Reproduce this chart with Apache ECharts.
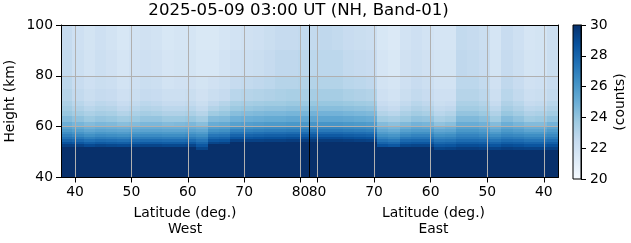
<!DOCTYPE html>
<html><head><meta charset="utf-8">
<script src="https://cdn.jsdelivr.net/npm/echarts@6/dist/echarts.min.js"></script>
<style>html,body{margin:0;padding:0;background:#fff}#c{width:631px;height:243px}</style>
</head><body><div id="c"></div>
<script>
const titleText = '2025-05-09 03:00 UT (NH, Band-01)';
const yAxisTitle = 'Height (km)';
const xAxisTitleWest = 'Latitude (deg.)\nWest';
const xAxisTitleEast = 'Latitude (deg.)\nEast';
const colorbarTitle = '(counts)';
const xTickValues = [40, 50, 60, 70, 80];
const colorbarRange = [20, 30];
// latitude bin edges (deg), ascending
const latEdges = [37.5,39.5,41.5,43.5,45.5,47.5,49.5,51.5,53.5,55.5,57.5,59.5,61.5,63.5,65.5,67.5,69.5,71.5,73.5,75.5,77.5,79.5,81.5];
// height bin edges (km)
const heightEdges = [40,50,51,52,53,54,55,56,57,58,59,60,62,64,66,68,70,75,80,90,100];
// counts per latitude bin (ascending latitude), each from bottom height bin to top
const westCounts = [
  [31,31,31,29.4,28.7,28.0,27.4,26.9,26.4,25.9,25.5,25.0,24.4,23.9,23.6,23.3,23.0,22.8,22.6,22.5],
  [31,31,31,29.3,28.5,27.8,27.2,26.6,26.1,25.6,25.2,24.7,24.1,23.6,23.2,22.9,22.6,22.4,22.2,22.1],
  [31,31,31,29.0,28.2,27.5,26.9,26.3,25.8,25.3,24.9,24.4,23.8,23.3,22.9,22.6,22.3,22.1,21.9,21.8],
  [31,31,31,29.2,28.4,27.7,27.1,26.5,26.0,25.5,25.1,24.6,24.0,23.5,23.1,22.8,22.5,22.3,22.2,22.1],
  [31,31,31,29.1,28.3,27.6,27.0,26.4,25.9,25.4,25.0,24.5,23.9,23.4,23.0,22.7,22.4,22.2,22.0,21.9],
  [31,31,31,29.0,28.2,27.5,26.9,26.3,25.8,25.3,24.9,24.3,23.7,23.1,22.7,22.4,22.1,21.9,21.7,21.6],
  [31,31,31,29.1,28.3,27.6,27.0,26.4,25.9,25.4,25.0,24.4,23.8,23.3,22.9,22.6,22.3,22.1,22.0,21.9],
  [31,31,31,29.2,28.4,27.7,27.1,26.5,26.0,25.5,25.1,24.6,24.0,23.5,23.1,22.8,22.5,22.3,22.1,22.0],
  [31,31,31,29.2,28.4,27.7,27.1,26.5,26.0,25.5,25.1,24.6,24.0,23.4,23.0,22.7,22.4,22.2,22.0,21.9],
  [31,31,31,29.1,28.3,27.6,27.0,26.4,25.9,25.4,25.0,24.4,23.8,23.2,22.8,22.5,22.2,21.9,21.7,21.6],
  [31,31,31,29.1,28.3,27.6,27.0,26.4,25.9,25.4,25.0,24.5,23.8,23.2,22.8,22.5,22.2,22.0,21.8,21.7],
  [31,31,31,29.2,28.4,27.7,27.1,26.5,26.0,25.5,25.1,24.6,23.9,23.3,22.9,22.6,22.3,22.0,21.8,21.7],
  [31,31,29.2,28.5,27.9,27.3,26.8,26.3,25.8,25.3,24.9,24.3,23.6,23.0,22.6,22.3,22.0,21.8,21.6,21.5],
  [31,31,31,31,29.2,28.5,27.9,27.3,26.7,26.2,25.7,25.1,24.4,23.7,23.1,22.7,22.3,22.0,21.6,21.5],
  [31,31,31,31,29.3,28.6,28.0,27.4,26.8,26.3,25.8,25.2,24.5,23.9,23.4,23.0,22.5,22.2,21.9,21.7],
  [31,31,31,31,31,29.3,28.6,28.0,27.4,26.8,26.2,25.6,24.9,24.3,23.8,23.4,22.9,22.5,22.1,21.9],
  [31,31,31,31,31,29.3,28.6,28.0,27.4,26.8,26.3,25.7,25.0,24.4,23.9,23.5,23.0,22.6,22.2,22.0],
  [31,31,31,31,31,29.3,28.7,28.1,27.5,26.9,26.4,25.8,25.1,24.5,24.0,23.6,23.1,22.7,22.3,22.1],
  [31,31,31,31,31,29.4,28.8,28.2,27.6,27.0,26.5,25.9,25.2,24.6,24.1,23.7,23.2,22.8,22.5,22.3],
  [31,31,31,31,31,29.4,28.8,28.2,27.6,27.0,26.5,25.9,25.2,24.6,24.1,23.7,23.3,23.0,22.7,22.5],
  [31,31,31,31,31,29.5,28.9,28.3,27.7,27.1,26.6,26.0,25.3,24.7,24.2,23.8,23.4,23.0,22.7,22.5],
  [31,31,31,31,31,29.5,28.9,28.3,27.7,27.1,26.6,26.0,25.3,24.7,24.2,23.8,23.4,23.1,22.8,22.6]
];
const eastCounts = [
  [31,31,29.4,28.8,28.2,27.6,27.1,26.6,26.2,25.8,25.4,24.8,24.1,23.6,23.2,22.9,22.6,22.4,22.3,22.2],
  [31,31,29.3,28.6,28.0,27.4,26.9,26.4,25.9,25.4,25.0,24.4,23.8,23.3,22.9,22.6,22.3,22.1,21.9,21.8],
  [31,31,29.3,28.6,28.0,27.4,26.9,26.4,25.9,25.4,25.0,24.4,23.7,23.2,22.8,22.5,22.2,22.0,21.8,21.7],
  [31,31,29.4,28.8,28.2,27.6,27.1,26.6,26.1,25.7,25.3,24.7,24.1,23.6,23.2,22.9,22.6,22.4,22.2,22.1],
  [31,31,29.5,28.9,28.3,27.7,27.2,26.7,26.3,25.9,25.5,25.0,24.4,23.9,23.5,23.2,22.9,22.7,22.5,22.4],
  [31,31,29.3,28.6,28.0,27.4,26.9,26.4,25.9,25.4,25.0,24.4,23.7,23.2,22.8,22.5,22.2,22.0,21.8,21.7],
  [31,31,29.4,28.8,28.2,27.6,27.1,26.6,26.2,25.8,25.4,24.9,24.3,23.8,23.4,23.1,22.8,22.6,22.4,22.3],
  [31,31,29.5,28.9,28.3,27.7,27.2,26.8,26.4,26.0,25.6,25.1,24.5,24.0,23.6,23.3,23.0,22.8,22.6,22.5],
  [31,31,29.5,28.9,28.3,27.7,27.2,26.8,26.4,26.0,25.6,25.1,24.5,24.0,23.6,23.3,23.0,22.8,22.7,22.6],
  [31,31,29.3,28.6,28.0,27.4,26.9,26.4,25.9,25.4,25.0,24.3,23.6,23.1,22.7,22.4,22.1,21.9,21.8,21.7],
  [31,31,29.2,28.5,27.9,27.3,26.8,26.3,25.8,25.3,24.8,24.1,23.4,22.9,22.6,22.3,22.1,21.9,21.8,21.7],
  [31,31,31,29.2,28.5,27.9,27.3,26.8,26.3,25.8,25.3,24.7,24.0,23.4,23.0,22.7,22.4,22.2,22.0,21.9],
  [31,31,31,29.2,28.5,27.9,27.3,26.8,26.3,25.8,25.4,24.8,24.1,23.6,23.2,22.9,22.6,22.4,22.2,22.1],
  [31,31,31,29.1,28.4,27.8,27.2,26.6,26.1,25.6,25.1,24.5,23.8,23.3,22.9,22.6,22.3,22.1,22.0,21.9],
  [31,31,31,28.5,27.8,27.2,26.6,26.1,25.6,25.1,24.7,24.2,23.5,22.9,22.5,22.2,21.9,21.7,21.5,21.4],
  [31,31,31,28.7,28.0,27.4,26.8,26.3,25.8,25.3,24.9,24.4,23.7,23.1,22.7,22.4,22.1,21.9,21.7,21.6],
  [31,31,31,31,31,29.3,28.7,28.1,27.5,26.9,26.4,25.8,25.1,24.5,24.0,23.6,23.1,22.7,22.4,22.2],
  [31,31,31,31,31,29.4,28.8,28.2,27.6,27.0,26.5,25.9,25.2,24.6,24.1,23.7,23.2,22.8,22.5,22.3],
  [31,31,31,31,31,29.5,28.9,28.3,27.7,27.1,26.6,26.0,25.3,24.7,24.2,23.8,23.3,22.9,22.6,22.4],
  [31,31,31,31,31,29.6,29.0,28.4,27.8,27.2,26.7,26.1,25.4,24.8,24.3,23.9,23.5,23.1,22.8,22.6],
  [31,31,31,31,31,29.6,29.0,28.4,27.8,27.2,26.7,26.1,25.4,24.8,24.3,23.9,23.5,23.1,22.8,22.7],
  [31,31,31,31,31,29.6,29.0,28.4,27.8,27.2,26.7,26.1,25.4,24.8,24.3,23.9,23.5,23.1,22.8,22.6]
];

// matplotlib "Blues" colormap stops
const bluesStops = [[247,251,255],[222,235,247],[198,219,239],[158,202,225],[107,174,214],[66,146,198],[33,113,181],[8,81,156],[8,48,107]];
function blues(v) {
  let t = (v - colorbarRange[0]) / (colorbarRange[1] - colorbarRange[0]);
  t = Math.max(0, Math.min(1, t));
  const n = bluesStops.length - 1;
  const i = Math.min(n - 1, Math.floor(t * n));
  const f = t * n - i;
  const a = bluesStops[i], b = bluesStops[i + 1];
  const c = a.map((x, k) => Math.round(x + (b[k] - x) * f));
  return 'rgb(' + c.join(',') + ')';
}

function cells(counts) {
  const out = [];
  for (let i = 0; i < latEdges.length - 1; i++) {
    for (let j = 0; j < heightEdges.length - 1; j++) {
      if (counts[i] && counts[i][j] != null)
        out.push([latEdges[i], latEdges[i + 1], heightEdges[j], heightEdges[j + 1], counts[i][j]]);
    }
  }
  return out;
}

function renderCell(params, api) {
  const p0 = api.coord([api.value(0), api.value(3)]);
  const p1 = api.coord([api.value(1), api.value(2)]);
  const x0 = Math.round(Math.min(p0[0], p1[0])), x1 = Math.round(Math.max(p0[0], p1[0]));
  const y0 = Math.round(Math.min(p0[1], p1[1])), y1 = Math.round(Math.max(p0[1], p1[1]));
  return { type: 'rect', shape: { x: x0, y: y0, width: x1 - x0, height: y1 - y0 },
           style: { fill: blues(api.value(4)) } };
}

function renderColorbar(params, api) {
  const p0 = api.coord([api.value(0), api.value(3)]);
  const p1 = api.coord([api.value(1), api.value(2)]);
  const stops = bluesStops.map((c, k) => ({ offset: k / (bluesStops.length - 1), color: 'rgb(' + c.join(',') + ')' }));
  return { type: 'rect', shape: { x: p0[0], y: p0[1], width: p1[0] - p0[0], height: p1[1] - p0[1] },
           style: { fill: new echarts.graphic.LinearGradient(0, 1, 0, 0, stops), stroke: '#000', lineWidth: 1 } };
}

const FONT = 'DejaVu Sans';
const txt = { fontFamily: FONT, fontSize: 13.9, color: '#000' };
const xGridLine = { show: true, lineStyle: { color: '#b0b0b0', width: 1 } };
const yGridLine = { show: true, showMinLine: false, showMaxLine: false, lineStyle: { color: '#b0b0b0', width: 1 } };
const blackLine = { show: true, onZero: false, lineStyle: { color: '#000', width: 1 } };

function latAxis(grid, inverse, name) {
  return {
    gridIndex: grid, type: 'value', min: 37.5, max: 81.5, inverse: inverse, position: 'bottom', z: 5,
    axisLine: blackLine,
    axisTick: { show: true, customValues: xTickValues, length: 5, lineStyle: { color: '#000' } },
    axisLabel: Object.assign({ customValues: xTickValues, margin: 8 }, txt),
    splitLine: xGridLine,
    name: name, nameLocation: 'middle', nameGap: 27.5,
    nameTextStyle: Object.assign({ lineHeight: 16.5 }, txt)
  };
}
function frameX(grid, inverse) {
  return { gridIndex: grid, type: 'value', min: 37.5, max: 81.5, inverse: inverse, position: 'top', z: 6,
           axisLine: blackLine, axisTick: { show: false }, axisLabel: { show: false }, splitLine: { show: false } };
}

const option = {
  animation: false,
  backgroundColor: '#fff',
  graphic: [{ type: 'text', x: 298.6, y: 11, z: 10,
              style: { text: titleText, font: '16.6px "DejaVu Sans"', fill: '#000', align: 'center', verticalAlign: 'middle' } }],
  grid: [
    { left: 61, top: 25, width: 248, height: 154 },
    { left: 309, top: 25, width: 249, height: 154 },
    { left: 573, top: 25, width: 8, height: 154 }
  ],
  xAxis: [
    latAxis(0, false, xAxisTitleWest),
    latAxis(1, true, xAxisTitleEast),
    frameX(0, false),
    frameX(1, true),
    { gridIndex: 2, type: 'value', min: 0, max: 1, show: false }
  ],
  yAxis: [
    { gridIndex: 0, type: 'value', min: 40, max: 100, interval: 20, position: 'left', z: 6,
      axisLine: blackLine,
      axisTick: { show: true, length: 5, lineStyle: { color: '#000' } },
      axisLabel: Object.assign({ margin: 8 }, txt),
      splitLine: yGridLine,
      name: yAxisTitle, nameLocation: 'middle', nameGap: 44, nameTextStyle: txt },
    { gridIndex: 1, type: 'value', min: 40, max: 100, interval: 20, position: 'left', z: 6,
      axisLine: blackLine, axisTick: { show: false }, axisLabel: { show: false },
      splitLine: yGridLine },
    { gridIndex: 1, type: 'value', min: 40, max: 100, position: 'right', z: 6,
      axisLine: blackLine, axisTick: { show: false }, axisLabel: { show: false }, splitLine: { show: false } },
    { gridIndex: 2, type: 'value', min: colorbarRange[0], max: colorbarRange[1], interval: 2, position: 'right', z: 6,
      axisLine: blackLine,
      axisTick: { show: true, length: 5, lineStyle: { color: '#000' } },
      axisLabel: Object.assign({ margin: 9 }, txt),
      splitLine: { show: false },
      name: colorbarTitle, nameLocation: 'middle', nameGap: 32, nameTextStyle: txt }
  ],
  series: [
    { type: 'custom', xAxisIndex: 0, yAxisIndex: 0, clip: true, z: 2, renderItem: renderCell,
      encode: { x: [0, 1], y: [2, 3] }, data: cells(westCounts), silent: true },
    { type: 'custom', xAxisIndex: 1, yAxisIndex: 1, clip: true, z: 2, renderItem: renderCell,
      encode: { x: [0, 1], y: [2, 3] }, data: cells(eastCounts), silent: true },
    { type: 'custom', xAxisIndex: 4, yAxisIndex: 3, z: 2, renderItem: renderColorbar,
      encode: { x: [0, 1], y: [2, 3] }, data: [[0, 1, colorbarRange[0], colorbarRange[1]]], silent: true }
  ]
};
const chart = echarts.init(document.getElementById('c'), null, { renderer: 'canvas' });
chart.setOption(option);
</script></body></html>
